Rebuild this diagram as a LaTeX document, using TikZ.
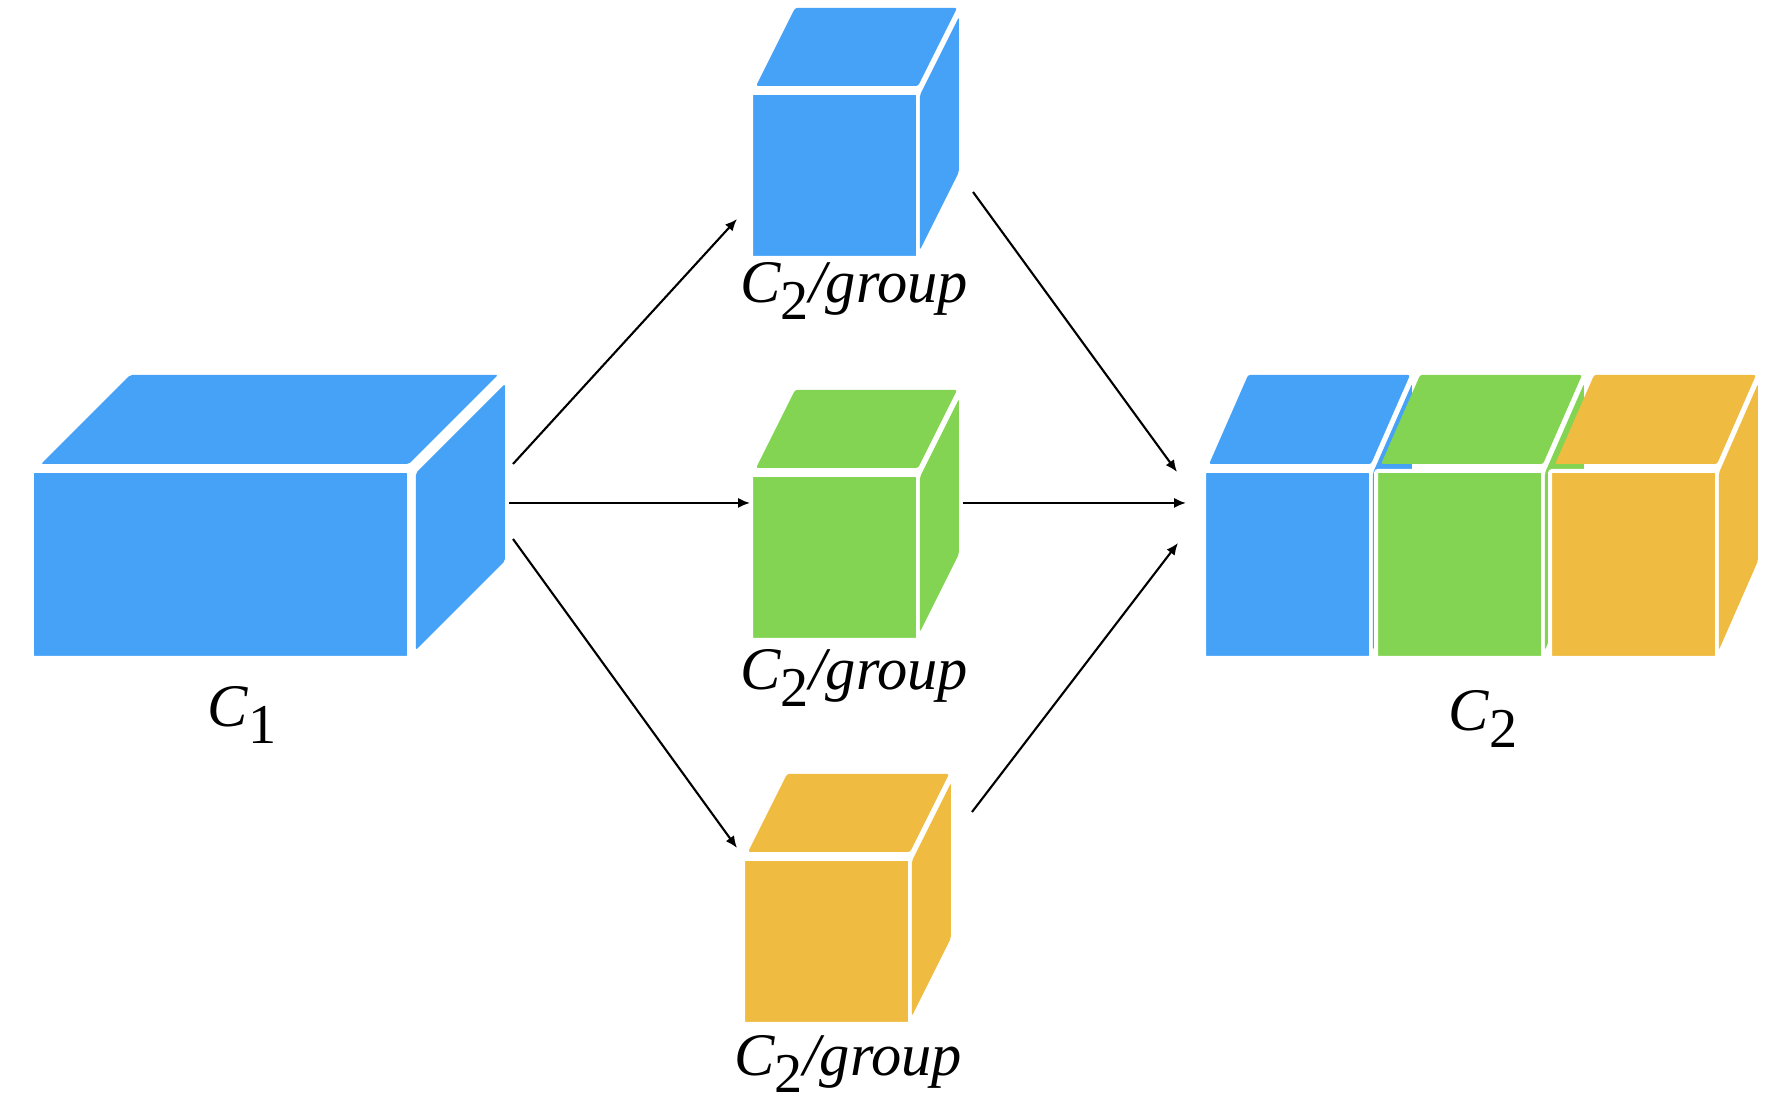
\documentclass[tikz,border=0pt]{standalone}
\usepackage{fontspec}
\setmainfont{Liberation Serif}
\usetikzlibrary{arrows.meta}
\definecolor{cblue}{RGB}{69,162,247}
\definecolor{cgreen}{RGB}{131,212,82}
\definecolor{cyellow}{RGB}{239,187,64}
\tikzset{front/.style={draw=white, line width=0.04cm, rounded corners=0.6pt},
  face/.style={rounded corners=0.6pt},
  link/.style={black, line width=0.6pt, -{Latex[length=3.4pt,width=2.9pt]}},
  lbl/.style={anchor=base, inner sep=0pt, font=\fontsize{17.2}{20}\selectfont}}
\newcommand{\block}[7]{%
  \path[front,fill=#7] (#1-0.02,#2-0.02) rectangle ++(#3+0.04,#4+0.04);
  \path[face,fill=#7] (#1+0.08*#5,#2+#4+0.09) -- (#1+#3+0.02,#2+#4+0.09) -- ++(#5,#6)
    -- (#1+0.08*#5+#5,#2+#4+0.09+#6) -- cycle;
  \path[face,fill=#7] (#1+#3+0.1*#5,#2+0.06) -- (#1+#3+0.1*#5,#2+#4) -- ++(#5,#6)
    -- ++(0,-#4+0.06) -- cycle;
}
\newcommand{\lowidx}[1]{\raisebox{-0.28em}{\fontsize{16}{16}\selectfont #1}}
\newcommand{\grouplabel}{\textit{C}\lowidx{2}\textit{/group}}

\begin{document}
\begin{tikzpicture}
   \useasboundingbox (0,0) rectangle (17.70,11.04);
   \block{0.34}{4.48}{3.73}{1.83}{0.89}{0.89}{cblue}
   \block{7.53}{8.48}{1.63}{1.61}{0.39}{0.78}{cblue}
   \block{7.53}{4.66}{1.63}{1.61}{0.39}{0.78}{cgreen}
   \block{7.45}{0.82}{1.63}{1.61}{0.39}{0.78}{cyellow}
   \begin{scope}
    \block{12.06}{4.48}{1.63}{1.83}{0.39}{0.89}{cblue}
    \block{13.78}{4.48}{1.63}{1.83}{0.39}{0.89}{cgreen}
    \block{15.52}{4.48}{1.63}{1.83}{0.39}{0.89}{cyellow}
   \end{scope}
   \node[lbl] (cin)  at ( 2.42,3.77) {\textit{C}\lowidx{1}};
   \node[lbl] (cout) at (14.83,3.73) {\textit{C}\lowidx{2}};
   \node[lbl] (gtop) at ( 8.54,8.01) {\grouplabel};
   \node[lbl] (gmid) at ( 8.54,4.14) {\grouplabel};
   \node[lbl] (gbot) at ( 8.48,0.28) {\grouplabel};
   \coordinate (in-up)   at ( 5.13,6.40);
   \coordinate (in-mid)  at ( 5.09,6.01);
   \coordinate (in-dn)   at ( 5.13,5.65);
   \coordinate (top-in)  at ( 7.37,8.85);
   \coordinate (mid-in)  at ( 7.50,6.01);
   \coordinate (bot-in)  at ( 7.37,2.56);
   \coordinate (top-out) at ( 9.73,9.12);
   \coordinate (mid-out) at ( 9.63,6.01);
   \coordinate (bot-out) at ( 9.72,2.92);
   \coordinate (out-up)  at (11.77,6.32);
   \coordinate (out-mid) at (11.86,6.01);
   \coordinate (out-dn)  at (11.78,5.61);
   \draw[link] (in-up) -- (top-in);
   \draw[link] (in-mid) -- (mid-in);
   \draw[link] (in-dn) -- (bot-in);
   \draw[link] (top-out) -- (out-up);
   \draw[link] (mid-out) -- (out-mid);
   \draw[link] (bot-out) -- (out-dn);
\end{tikzpicture}
\end{document}
